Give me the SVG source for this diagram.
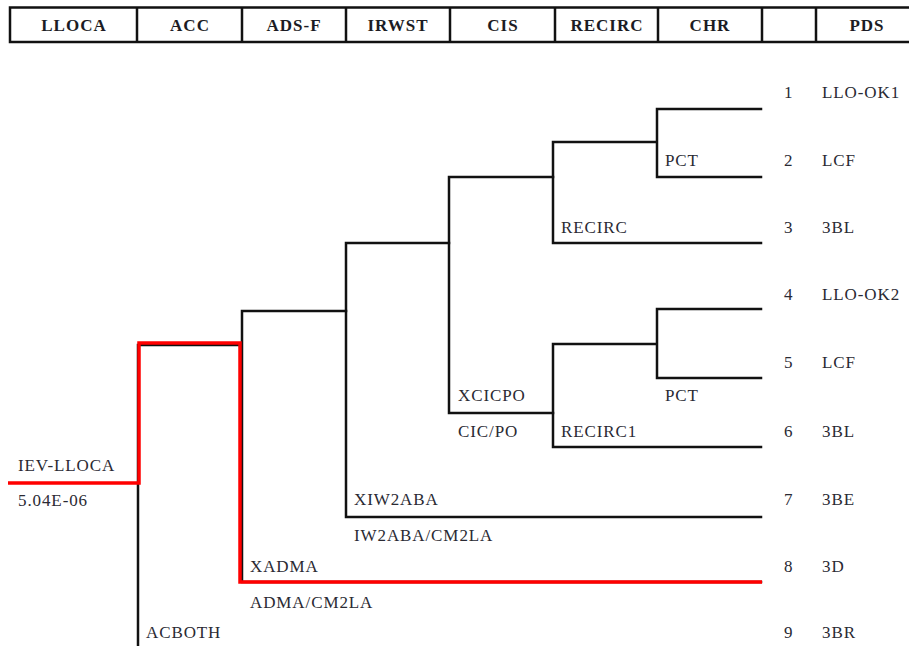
<svg xmlns="http://www.w3.org/2000/svg" width="909" height="646" viewBox="0 0 909 646">
  <style>
    .hdr { font-family: "Liberation Serif", "Times New Roman", serif; font-weight: bold; font-size: 17px; letter-spacing: 1px; fill: #1c1c24; text-anchor: middle; }
    .lbl { font-family: "Liberation Serif", "Times New Roman", serif; font-size: 17px; letter-spacing: 0.9px; fill: #2a2a33; }
    .cell { fill: none; stroke: #111; stroke-width: 2.5; }
    .tree { fill: none; stroke: #111; stroke-width: 2.5; stroke-linecap: square; stroke-linejoin: miter; }
    .path { fill: none; stroke: #ff0000; stroke-width: 3.5; stroke-linejoin: miter; }
  </style>
  <rect width="909" height="646" fill="#ffffff"/>

  <!-- heading row -->
  <g id="header">
    <rect class="cell" x="10" y="7.5" width="920" height="34.5"/>
    <path class="cell" d="M137 7.5V42M242 7.5V42M346 7.5V42M450 7.5V42M555 7.5V42M658 7.5V42M762 7.5V42M816 7.5V42"/>
    <text class="hdr" x="74" y="31">LLOCA</text>
    <text class="hdr" x="190" y="31">ACC</text>
    <text class="hdr" x="294" y="31">ADS-F</text>
    <text class="hdr" x="398" y="31">IRWST</text>
    <text class="hdr" x="503" y="31">CIS</text>
    <text class="hdr" x="607" y="31">RECIRC</text>
    <text class="hdr" x="710" y="31">CHR</text>
    <text class="hdr" x="867" y="31">PDS</text>
  </g>

  <!-- branch lines -->
  <g id="connectors">
    <path class="tree" d="M138 345V646M138 345H242M242 311V582H761M242 311H346"/>
    <path class="tree" d="M346 243V517H761M346 243H449"/>
    <path class="tree" d="M449 177V413H553M449 177H553"/>
    <path class="tree" d="M553 142V243H761M553 142H657M657 109V177M657 109H761M657 177H761"/>
    <path class="tree" d="M553 344V447H761M553 344H657M657 309V378M657 309H761M657 378H761"/>
    <path class="path" d="M8 483H139V343H240V582H762"/>
  </g>

  <g id="initiator">
    <text class="lbl" x="18" y="471">IEV-LLOCA</text>
    <text class="lbl" x="18" y="506">5.04E-06</text>
  </g>

  <g id="branch-labels">
    <text class="lbl" x="665" y="166">PCT</text>
    <text class="lbl" x="561" y="233">RECIRC</text>
    <text class="lbl" x="665" y="401">PCT</text>
    <text class="lbl" x="458" y="401">XCICPO</text>
    <text class="lbl" x="458" y="437">CIC/PO</text>
    <text class="lbl" x="561" y="437">RECIRC1</text>
    <text class="lbl" x="354" y="505">XIW2ABA</text>
    <text class="lbl" x="354" y="541">IW2ABA/CM2LA</text>
    <text class="lbl" x="250" y="572">XADMA</text>
    <text class="lbl" x="250" y="608">ADMA/CM2LA</text>
    <text class="lbl" x="146" y="638">ACBOTH</text>
  </g>

  <g id="end-states">
    <g id="s1"><text class="lbl" x="784" y="98">1</text><text class="lbl" x="822" y="98">LLO-OK1</text></g>
    <g id="s2"><text class="lbl" x="784" y="166">2</text><text class="lbl" x="822" y="166">LCF</text></g>
    <g id="s3"><text class="lbl" x="784" y="233">3</text><text class="lbl" x="822" y="233">3BL</text></g>
    <g id="s4"><text class="lbl" x="784" y="300">4</text><text class="lbl" x="822" y="300">LLO-OK2</text></g>
    <g id="s5"><text class="lbl" x="784" y="368">5</text><text class="lbl" x="822" y="368">LCF</text></g>
    <g id="s6"><text class="lbl" x="784" y="437">6</text><text class="lbl" x="822" y="437">3BL</text></g>
    <g id="s7"><text class="lbl" x="784" y="505">7</text><text class="lbl" x="822" y="505">3BE</text></g>
    <g id="s8"><text class="lbl" x="784" y="572">8</text><text class="lbl" x="822" y="572">3D</text></g>
    <g id="s9"><text class="lbl" x="784" y="638">9</text><text class="lbl" x="822" y="638">3BR</text></g>
  </g>
</svg>
